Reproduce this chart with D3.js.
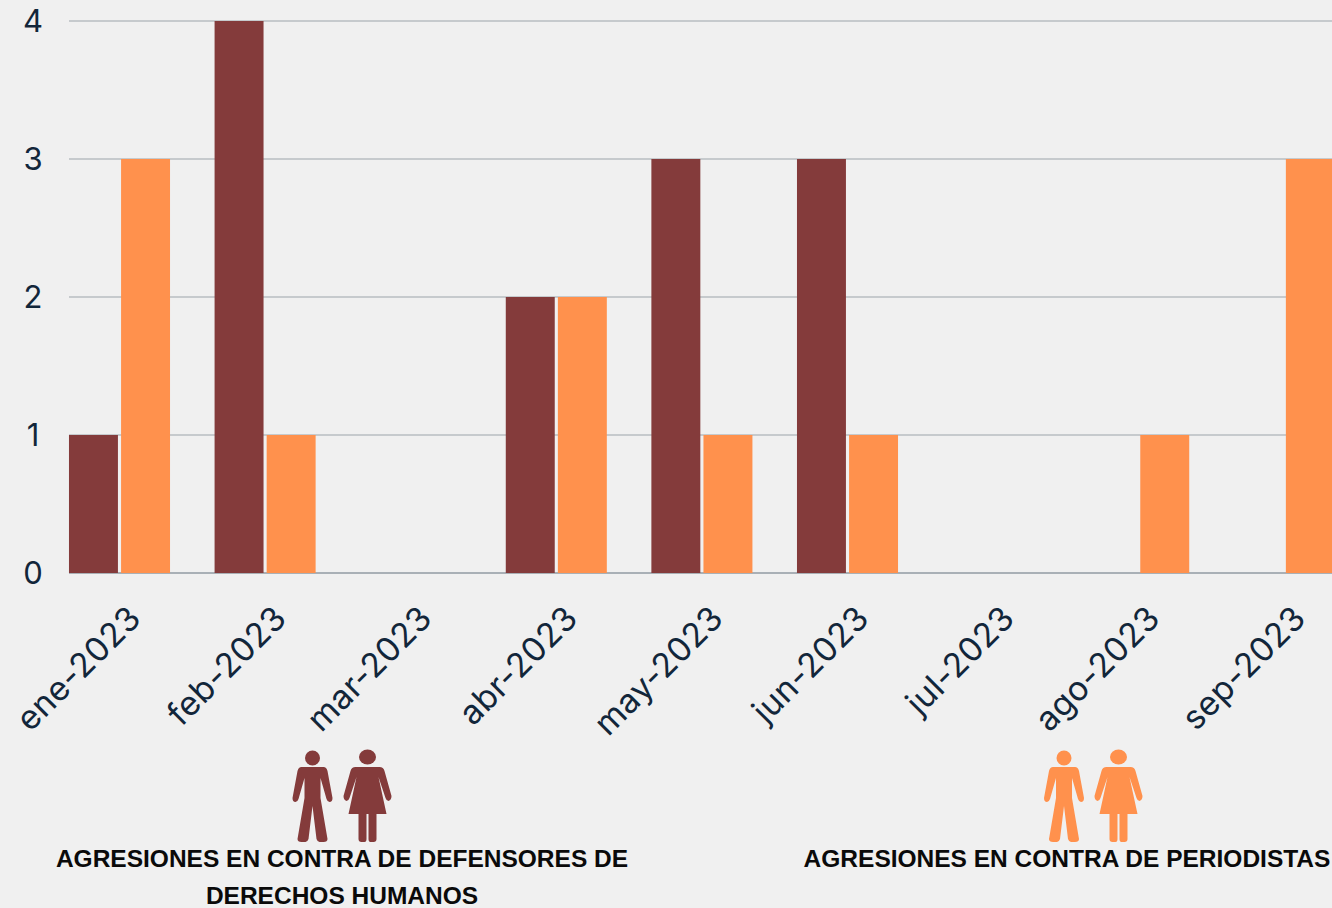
<!DOCTYPE html>
<html><head><meta charset="utf-8">
<script src="https://cdn.jsdelivr.net/npm/d3@7"></script>
<style>html,body{margin:0;padding:0;background:#f0f0f0;overflow:hidden}svg{display:block}</style>
</head><body><svg id="c" width="1332" height="908"></svg>
<script>
const months = ["ene-2023","feb-2023","mar-2023","abr-2023","may-2023","jun-2023","jul-2023","ago-2023","sep-2023"];
const defensores = [1,4,0,2,3,3,0,0,0];
const periodistas = [3,1,0,2,1,1,0,1,3];
const yTicks = [0,1,2,3,4];
const seriesNames = ["defensores","periodistas"];
const seriesColors = ["#843b3b","#ff914d"];
const labelDef = ["AGRESIONES EN CONTRA DE DEFENSORES DE","DERECHOS HUMANOS"];
const labelPer = ["AGRESIONES EN CONTRA DE PERIODISTAS"];

const svg = d3.select("#c");
const font = "Inter, 'Noto Sans', sans-serif";
const textCol = "#12263a";
const step = 145.6;
const x0 = d3.scaleBand().domain(months).range([46.7,46.7+step*9]).paddingInner(0.306).paddingOuter(0.153);
const x1 = d3.scaleBand().domain(seriesNames).range([0,x0.bandwidth()]).paddingInner(0.06);
const y = d3.scaleLinear().domain([0,4]).range([573,21]);
const color = d3.scaleOrdinal(seriesNames,seriesColors);

const g = svg.append("g");
g.selectAll("line.grid").data(yTicks).join("line").attr("class","grid")
 .attr("x1",69).attr("x2",1332).attr("y1",d=>y(d)).attr("y2",d=>y(d))
 .attr("stroke",d=>d===0?"#a9b0b6":"#c6cacd").attr("stroke-width",2);

const rows = months.map((m,i)=>({m,defensores:defensores[i],periodistas:periodistas[i]}));
const grp = g.selectAll("g.m").data(rows).join("g").attr("class","m").attr("transform",d=>`translate(${x0(d.m)},0)`);
grp.selectAll("rect").data(d=>seriesNames.map(s=>({s,v:d[s]})).filter(e=>e.v>0)).join("rect")
 .attr("x",d=>x1(d.s)).attr("width",x1.bandwidth())
 .attr("y",d=>y(d.v)).attr("height",d=>y(0)-y(d.v)).attr("fill",d=>color(d.s));

g.selectAll("text.yt").data(yTicks).join("text").attr("class","yt")
 .attr("x",33).attr("y",d=>y(d)).attr("dy","0.36em").attr("text-anchor","middle")
 .attr("font-family",font).attr("font-size",31).attr("fill",textCol).text(d=>d);

g.selectAll("text.xt").data(months).join("text").attr("class","xt")
 .attr("transform",d=>`translate(${x0(d)+x0.bandwidth()/2+15},612) rotate(-45)`)
 .attr("text-anchor","end").attr("dy","0.35em")
 .attr("font-family",font).attr("font-size",33.5).attr("letter-spacing",0.4).attr("fill",textCol).text(d=>d);

function man(px,py,c){
 const i=svg.append("g").attr("transform",`translate(${px},${py})`).attr("fill",c);
 i.append("circle").attr("cx",0).attr("cy",-84).attr("r",7.5);
 i.append("path").attr("d","M-11,-75 Q-14,-75 -15,-71 L-20,-44 Q-20,-40 -17,-40 Q-15,-40 -14,-43 L-8,-64 L-8,-44 L-15,-3 Q-15,0 -11,0 L-7,0 Q-5,0 -4,-3 L0,-36 L4,-3 Q5,0 7,0 L11,0 Q15,0 15,-3 L8,-44 L8,-64 L14,-43 Q15,-40 17,-40 Q20,-40 20,-44 L15,-71 Q14,-75 11,-75 Z");
}
function woman(px,py,c){
 const i=svg.append("g").attr("transform",`translate(${px},${py})`).attr("fill",c);
 i.append("ellipse").attr("cx",0).attr("cy",-85).attr("rx",8.5).attr("ry",7.5);
 i.append("path").attr("d","M-12,-75 L12,-75 Q16,-75 17,-71 L24,-46 Q24,-42 21,-41 Q19,-41 18,-44 L11,-65 L19,-28 L9,-28 L9,-3 Q9,0 6,0 L3,0 Q1,0 1,-3 L1,-28 L-1,-28 L-1,-3 Q-1,0 -3,0 L-6,0 Q-9,0 -9,-3 L-9,-28 L-19,-28 L-11,-65 L-18,-44 Q-19,-41 -21,-41 Q-24,-42 -24,-46 L-17,-71 Q-16,-75 -12,-75 Z");
}
man(312.5,842,seriesColors[0]); woman(367.5,842,seriesColors[0]);
man(1064,842,seriesColors[1]); woman(1118.5,842,seriesColors[1]);

const bfont="'Liberation Sans', Arial, sans-serif";
svg.selectAll("text.l1").data(labelDef).join("text").attr("class","l1")
 .attr("x",342).attr("y",(d,i)=>867+i*36.5).attr("text-anchor","middle")
 .attr("font-family",bfont).attr("font-weight",700).attr("font-size",24.5).attr("fill","#0a0a0a").text(d=>d);
svg.selectAll("text.l2").data(labelPer).join("text").attr("class","l2")
 .attr("x",1067).attr("y",867).attr("text-anchor","middle")
 .attr("font-family",bfont).attr("font-weight",700).attr("font-size",24.5).attr("fill","#0a0a0a").text(d=>d);
</script></body></html>
